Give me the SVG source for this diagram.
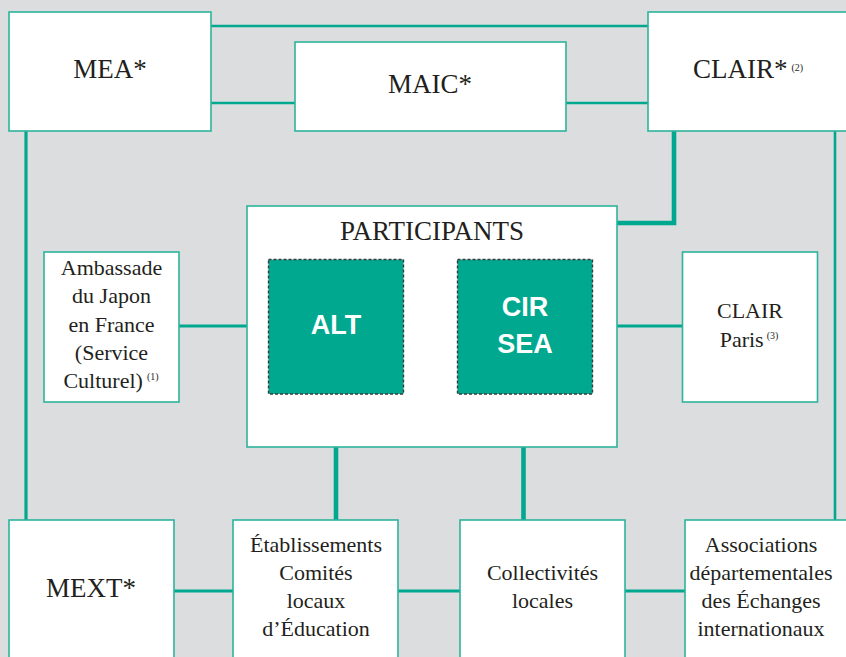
<svg xmlns="http://www.w3.org/2000/svg" width="846" height="657" viewBox="0 0 846 657">
<style>
.box{fill:#ffffff;stroke:#2db39c;stroke-width:1.6}
.tbox{fill:#00a88f;stroke:#3a3a3a;stroke-width:1.4;stroke-dasharray:3 2}
.c{fill:none;stroke:#00a88f;stroke-linecap:butt}
.thin{stroke-width:2.6}
.mid{stroke-width:3.2}
.thick{stroke-width:4.6}
.t{font-family:"Liberation Serif","Times New Roman",serif;fill:#231f20;text-anchor:middle}
.big{font-size:27px}
.small{font-size:22px}
.sup{font-size:10px}
.w{font-family:"Liberation Sans",Arial,sans-serif;font-weight:bold;font-size:27px;fill:#ffffff;text-anchor:middle}
</style>
<rect width="846" height="657" fill="#dcdddf"/>
<g id="connectors">
<line class="c thin" x1="211" y1="26" x2="648" y2="26"/>
<line class="c thin" x1="211" y1="103" x2="295" y2="103"/>
<line class="c thin" x1="566" y1="103" x2="648" y2="103"/>
<line class="c mid" x1="26" y1="131" x2="26" y2="520"/>
<line class="c thin" x1="835" y1="131" x2="835" y2="520"/>
<polyline class="c thick" points="674,131 674,223 617,223"/>
<line class="c mid" x1="179" y1="326" x2="247" y2="326"/>
<line class="c mid" x1="617" y1="326" x2="683" y2="326"/>
<line class="c thick" x1="336" y1="394" x2="336" y2="520"/>
<line class="c thick" x1="523.5" y1="394" x2="523.5" y2="520"/>
<line class="c mid" x1="174" y1="591" x2="233" y2="591"/>
<line class="c mid" x1="398" y1="591" x2="460" y2="591"/>
<line class="c mid" x1="625" y1="591" x2="685" y2="591"/>
</g>
<g id="mea">
<rect class="box" x="9" y="12" width="202" height="119"/>
<text class="t big" x="110" y="78">MEA*</text>
</g>
<g id="maic">
<rect class="box" x="295" y="42" width="271" height="89"/>
<text class="t big" x="430" y="93">MAIC*</text>
</g>
<g id="clair">
<rect class="box" x="648" y="12" width="210" height="119"/>
<text class="t big" x="693" y="78" style="text-anchor:start">CLAIR*<tspan class="sup" dx="4" dy="-7">(2)</tspan></text>
</g>
<g id="participants">
<rect class="box" x="247" y="206" width="370" height="241"/>
<text class="t big" x="432" y="240">PARTICIPANTS</text>
</g>
<g id="alt">
<rect class="tbox" x="268.5" y="259.5" width="135" height="134.5"/>
<text class="w" x="336" y="334">ALT</text>
</g>
<g id="cirsea">
<rect class="tbox" x="457.5" y="259.5" width="135" height="134.5"/>
<text class="w" x="525" y="316">CIR</text>
<text class="w" x="525" y="353">SEA</text>
</g>
<g id="ambassade">
<rect class="box" x="44" y="252" width="135" height="150"/>
<text class="t small" x="111.5" y="275">Ambassade</text>
<text class="t small" x="111.5" y="303">du Japon</text>
<text class="t small" x="111.5" y="331.5">en France</text>
<text class="t small" x="111.5" y="360">(Service</text>
<text class="t small" x="111" y="388">Culturel)<tspan class="sup" dx="4" dy="-8">(1)</tspan></text>
</g>
<g id="clairparis">
<rect class="box" x="682.5" y="252" width="135" height="150"/>
<text class="t small" x="750" y="318">CLAIR</text>
<text class="t small" x="749" y="346.5">Paris<tspan class="sup" dx="3" dy="-8">(3)</tspan></text>
</g>
<g id="mext">
<rect class="box" x="9" y="520" width="165" height="150"/>
<text class="t big" x="91" y="597">MEXT*</text>
</g>
<g id="etablissements">
<rect class="box" x="233" y="520" width="165" height="150"/>
<text class="t small" x="316" y="552">Établissements</text>
<text class="t small" x="316" y="580">Comités</text>
<text class="t small" x="316" y="608">locaux</text>
<text class="t small" x="316" y="636">d’Éducation</text>
</g>
<g id="collectivites">
<rect class="box" x="460" y="520" width="165" height="150"/>
<text class="t small" x="542.5" y="580">Collectivités</text>
<text class="t small" x="542.5" y="608">locales</text>
</g>
<g id="associations">
<rect class="box" x="685" y="520" width="175" height="150"/>
<text class="t small" x="761" y="552">Associations</text>
<text class="t small" x="761" y="580">départementales</text>
<text class="t small" x="761" y="608">des Échanges</text>
<text class="t small" x="761" y="636">internationaux</text>
</g>
</svg>
